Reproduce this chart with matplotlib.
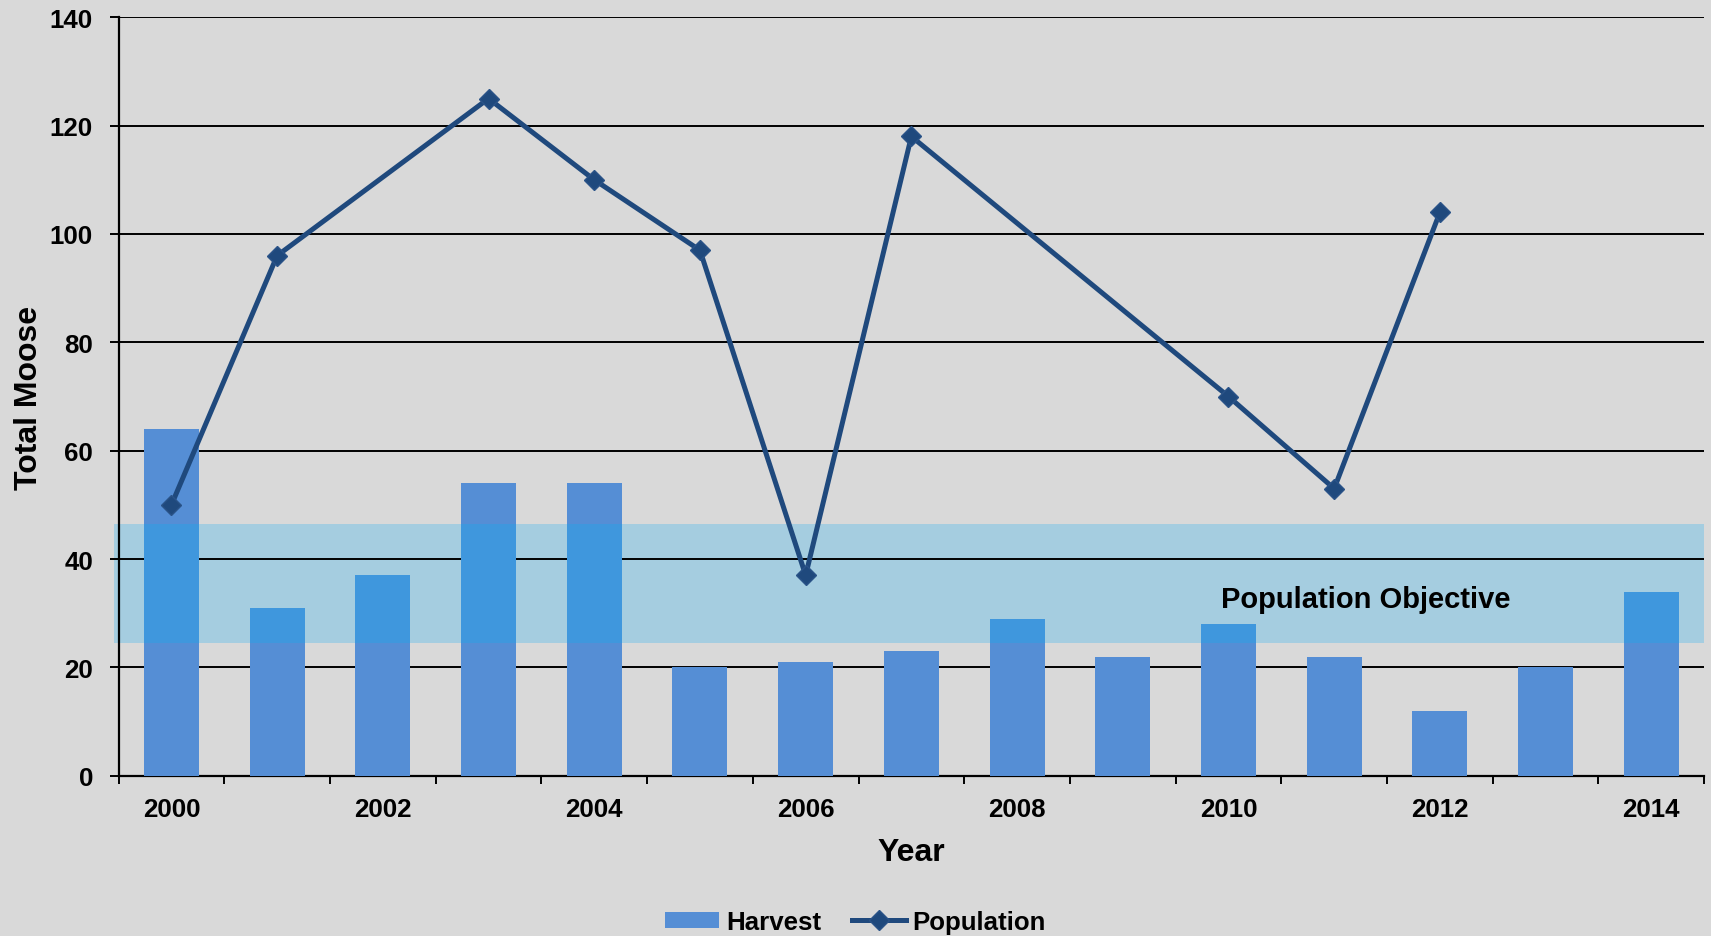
import matplotlib
matplotlib.use("Agg")
import matplotlib.pyplot as plt
import numpy as np

years = list(range(2000, 2015))
harvest = [64, 31, 37, 54, 54, 20, 21, 23, 29, 22, 28, 22, 12, 20, 34]
population = [50, 96, None, 125, 110, 97, 37, 118, None, None, 70, 53, 104, None, None]
objective_low, objective_high = 24.5, 46.5
y_ticks = [0, 20, 40, 60, 80, 100, 120, 140]

plt.rcParams['font.family'] = ['Liberation Sans', 'DejaVu Sans']
plt.rcParams['font.weight'] = 'bold'

bg = '#D9D9D9'
bar_c = '#558ED5'
bar_in_band = '#3F97DD'
band_c = '#A5CDE0'
line_c = '#1F497D'

fig = plt.figure(figsize=(17.11, 9.37), dpi=100, facecolor=bg)
ax = fig.add_axes([0.0693, 0.171, 0.9267, 0.8095])
ax.set_facecolor(bg)

x = np.arange(len(years))
ax.axhspan(objective_low, objective_high, xmin=-0.003, xmax=1.0, color=band_c, zorder=0.5, clip_on=False, lw=0)
for yt in y_ticks[1:]:
    ax.axhline(yt, color='black', lw=1.4, zorder=1)

ax.bar(x, harvest, width=0.52, color=bar_c, zorder=2)
h = np.array(harvest, dtype=float)
top = np.minimum(h, objective_high)
mask = h > objective_low
ax.bar(x[mask], (top - objective_low)[mask], bottom=objective_low, width=0.52, color=bar_in_band, zorder=2.1)

pop = np.array([np.nan if v is None else v for v in population], dtype=float)
valid = ~np.isnan(pop)
ax.plot(x[valid], pop[valid], color=line_c, lw=3.6, marker='D', ms=10,
        markerfacecolor=line_c, markeredgecolor='#2A5388', markeredgewidth=1, zorder=3,
        label='Population')

ax.text(11.3, 32.6, 'Population Objective', ha='center', va='center', fontsize=21,
        fontweight='bold', zorder=4)

ax.set_xlim(-0.5, len(years) - 0.5)
ax.set_ylim(0, 140)
ax.set_yticks(y_ticks)
ax.set_yticklabels([str(v) for v in y_ticks])
ax.set_xticks(np.arange(-0.5, len(years), 1.0))
ax.set_xticklabels([])
ax.set_xticks(x[::2], minor=True)
ax.set_xticklabels([str(y) for y in years[::2]], minor=True)
ax.tick_params(axis='x', which='major', length=6, width=1.4, direction='out', color='black')
ax.tick_params(axis='x', which='minor', length=0, pad=15.0, labelsize=18.6)
ax.tick_params(axis='y', length=6.5, width=1.4, direction='out', pad=12.0, labelsize=18.6)

for s in ['top', 'right']:
    ax.spines[s].set_visible(False)
for s in ['left', 'bottom']:
    ax.spines[s].set_linewidth(1.6)
    ax.spines[s].set_color('black')
    ax.spines[s].set_zorder(1.5)

ax.set_xlabel('Year', fontsize=23, fontweight='bold')
ax.set_ylabel('Total Moose', fontsize=23, fontweight='bold')
ax.xaxis.set_label_coords(0.5, -0.0808)
ax.yaxis.set_label_coords(-0.0473, 0.5)

from matplotlib.patches import Patch
from matplotlib.lines import Line2D
handles = [Patch(facecolor=bar_c, label='Harvest'),
           Line2D([0], [0], color=line_c, lw=3.6, marker='D', ms=10, markerfacecolor=line_c,
                  markeredgecolor='#2A5388', label='Population')]
fig.legend(handles=handles, loc='center', bbox_to_anchor=(0.5, 0.015), ncol=2, frameon=False,
           prop={'size': 18.6, 'weight': 'bold'}, handlelength=2.1, handleheight=0.55,
           columnspacing=1.2, handletextpad=0.25)

fig.savefig('out.png', dpi=100, facecolor=bg)
